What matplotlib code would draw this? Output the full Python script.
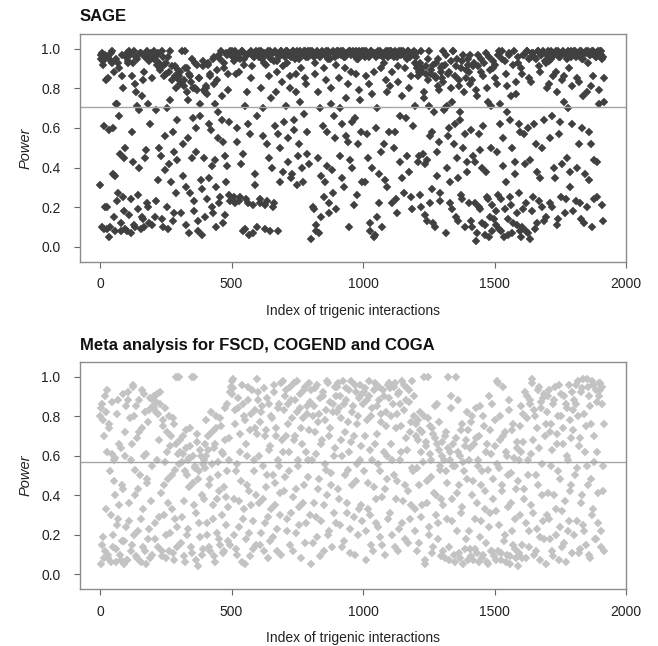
import matplotlib
matplotlib.use("Agg")
import matplotlib.pyplot as plt
import numpy as np

plt.rcParams['font.family'] = ['Liberation Sans', 'DejaVu Sans']

# power values, one row per 100 interactions.
# the "_a" lists hold indices 0, 4, 8, ...; the "_b" lists hold 2, 6, 10, ...
sage_power_a = [
    0.31, 0.97, 0.10, 0.94, 0.61, 0.20, 0.96, 0.09, 0.85, 0.05, 0.98, 0.93, 0.60, 0.15, 0.36, 0.95, 0.72, 0.27, 0.90, 0.47, 0.08, 0.86, 0.25, 0.18, 0.50,
    0.97, 0.08, 0.94, 0.99, 0.24, 0.58, 0.93, 0.11, 0.82, 0.96, 0.71, 0.19, 0.40, 0.98, 0.09, 0.76, 0.14, 0.88, 0.45, 0.96, 0.22, 0.72, 0.12, 0.97, 0.85,
    0.98, 0.95, 0.15, 0.69, 0.97, 0.34, 0.93, 0.89, 0.46, 0.99, 0.10, 0.92, 0.56, 0.87, 0.20, 0.96, 0.42, 0.74, 0.91, 0.13, 0.48, 0.86, 0.27, 0.64, 0.89,
    0.84, 0.88, 0.17, 0.83, 0.52, 0.81, 0.99, 0.30, 0.90, 0.74, 0.07, 0.86, 0.45, 0.80, 0.23, 0.93, 0.60, 0.79, 0.13, 0.85, 0.66, 0.34, 0.06, 0.91, 0.45,
    0.78, 0.80, 0.24, 0.93, 0.62, 0.87, 0.41, 0.17, 0.96, 0.72, 0.30, 0.84, 0.55, 0.22, 0.95, 0.99, 0.64, 0.12, 0.90, 0.46, 0.33, 0.97, 0.79, 0.26, 0.99,
    0.98, 0.96, 0.25, 0.99, 0.87, 0.53, 0.97, 0.23, 0.95, 0.42, 0.99, 0.08, 0.92, 0.71, 0.24, 0.97, 0.62, 0.06, 0.98, 0.85, 0.21, 0.96, 0.37, 0.99, 0.10,
    0.97, 0.99, 0.22, 0.80, 0.95, 0.56, 0.98, 0.09, 0.92, 0.23, 0.97, 0.45, 0.99, 0.75, 0.20, 0.94, 0.61, 0.98, 0.88, 0.08, 0.96, 0.50, 0.99, 0.83, 0.38,
    0.98, 0.96, 0.71, 0.99, 0.43, 0.97, 0.86, 0.35, 0.99, 0.59, 0.95, 0.78, 0.31, 0.98, 0.52, 0.99, 0.90, 0.40, 0.97, 0.67, 0.99, 0.82, 0.47, 0.96, 0.98,
    0.99, 0.04, 0.97, 0.19, 0.93, 0.11, 0.98, 0.78, 0.07, 0.96, 0.36, 0.99, 0.61, 0.25, 0.97, 0.84, 0.41, 0.99, 0.17, 0.95, 0.72, 0.27, 0.98, 0.55, 0.92,
    0.98, 0.99, 0.85, 0.46, 0.97, 0.62, 0.99, 0.30, 0.96, 0.75, 0.98, 0.53, 0.10, 0.99, 0.88, 0.40, 0.97, 0.65, 0.99, 0.26, 0.95, 0.79, 0.98, 0.58, 0.99,
    0.97, 0.99, 0.33, 0.86, 0.98, 0.45, 0.96, 0.08, 0.99, 0.77, 0.05, 0.98, 0.60, 0.15, 0.97, 0.37, 0.99, 0.90, 0.10, 0.96, 0.52, 0.98, 0.84, 0.30, 0.99,
    0.98, 0.81, 0.99, 0.22, 0.96, 0.58, 0.98, 0.17, 0.91, 0.99, 0.43, 0.97, 0.76, 0.99, 0.27, 0.98, 0.65, 0.95, 0.99, 0.38, 0.97, 0.86, 0.19, 0.98, 0.71,
    0.96, 0.92, 0.43, 0.88, 0.26, 0.99, 0.90, 0.47, 0.78, 0.16, 0.87, 0.44, 0.95, 0.71, 0.22, 0.89, 0.58, 0.12, 0.86, 0.93, 0.36, 0.81, 0.53, 0.27, 0.90,
    0.85, 0.99, 0.69, 0.92, 0.07, 0.71, 0.56, 0.88, 0.33, 0.80, 0.19, 0.99, 0.62, 0.91, 0.45, 0.13, 0.84, 0.68, 0.26, 0.94, 0.50, 0.78, 0.10, 0.89, 0.38,
    0.95, 0.22, 0.82, 0.59, 0.10, 0.91, 0.43, 0.03, 0.76, 0.97, 0.20, 0.49, 0.88, 0.12, 0.61, 0.93, 0.06, 0.38, 0.80, 0.24, 0.96, 0.15, 0.71, 0.08, 0.90,
    0.85, 0.18, 0.48, 0.97, 0.09, 0.72, 0.24, 0.99, 0.55, 0.05, 0.94, 0.33, 0.81, 0.14, 0.98, 0.64, 0.21, 0.07, 0.92, 0.43, 0.77, 0.11, 0.96, 0.27, 0.58,
    0.05, 0.87, 0.19, 0.97, 0.42, 0.08, 0.99, 0.60, 0.95, 0.04, 0.83, 0.98, 0.25, 0.96, 0.52, 0.12, 0.99, 0.91, 0.35, 0.97, 0.20, 0.98, 0.64, 0.94, 0.15,
    0.97, 0.99, 0.82, 0.22, 0.95, 0.66, 0.98, 0.40, 0.88, 0.11, 0.99, 0.57, 0.96, 0.25, 0.84, 0.98, 0.73, 0.17, 0.97, 0.45, 0.99, 0.90, 0.30, 0.96, 0.62,
    0.98, 0.99, 0.23, 0.85, 0.97, 0.52, 0.99, 0.14, 0.95, 0.76, 0.98, 0.37, 0.99, 0.20, 0.93, 0.58, 0.97, 0.81, 0.10, 0.99, 0.44, 0.96, 0.25, 0.98, 0.72,
    0.99, 0.97, 0.21, 0.96, 0.73,
]

sage_power_b = [
    0.95, 0.98, 0.92, 0.09, 0.97, 0.84, 0.20, 0.96, 0.59, 0.10, 0.94, 0.99, 0.37, 0.88, 0.08, 0.72, 0.23, 0.93, 0.66, 0.12, 0.97, 0.80, 0.45, 0.09, 0.96,
    0.98, 0.93, 0.16, 0.97, 0.07, 0.86, 0.43, 0.99, 0.10, 0.78, 0.95, 0.26, 0.69, 0.98, 0.15, 0.84, 0.10, 0.96, 0.49, 0.99, 0.20, 0.94, 0.62, 0.98, 0.11,
    0.97, 0.99, 0.95, 0.23, 0.92, 0.98, 0.50, 0.90, 0.14, 0.96, 0.86, 0.39, 0.93, 0.70, 0.09, 0.88, 0.99, 0.33, 0.84, 0.58, 0.17, 0.91, 0.80, 0.44, 0.87,
    0.86, 0.82, 0.99, 0.36, 0.84, 0.90, 0.11, 0.78, 0.55, 0.87, 0.27, 0.83, 0.95, 0.65, 0.18, 0.80, 0.48, 0.92, 0.08, 0.85, 0.72, 0.29, 0.94, 0.79, 0.15,
    0.81, 0.77, 0.92, 0.35, 0.86, 0.59, 0.20, 0.95, 0.82, 0.44, 0.10, 0.89, 0.68, 0.97, 0.25, 0.76, 0.53, 0.93, 0.16, 0.98, 0.41, 0.87, 0.63, 0.23, 0.97,
    0.99, 0.97, 0.94, 0.22, 0.98, 0.60, 0.96, 0.88, 0.25, 0.99, 0.47, 0.95, 0.09, 0.97, 0.78, 0.22, 0.98, 0.57, 0.99, 0.91, 0.07, 0.96, 0.31, 0.98, 0.66,
    0.98, 0.96, 0.24, 0.99, 0.70, 0.93, 0.21, 0.97, 0.52, 0.99, 0.86, 0.08, 0.95, 0.40, 0.98, 0.22, 0.99, 0.78, 0.94, 0.57, 0.97, 0.33, 0.99, 0.91, 0.63,
    0.97, 0.99, 0.93, 0.55, 0.98, 0.80, 0.96, 0.37, 0.99, 0.64, 0.97, 0.87, 0.99, 0.46, 0.95, 0.73, 0.98, 0.33, 0.99, 0.85, 0.96, 0.58, 0.99, 0.42, 0.97,
    0.98, 0.99, 0.20, 0.96, 0.87, 0.08, 0.99, 0.45, 0.97, 0.70, 0.15, 0.98, 0.90, 0.33, 0.99, 0.58, 0.95, 0.22, 0.98, 0.80, 0.39, 0.99, 0.66, 0.96, 0.19,
    0.99, 0.97, 0.98, 0.70, 0.99, 0.35, 0.96, 0.90, 0.56, 0.98, 0.82, 0.99, 0.44, 0.97, 0.63, 0.99, 0.21, 0.98, 0.87, 0.95, 0.52, 0.99, 0.74, 0.97, 0.33,
    0.98, 0.96, 0.99, 0.57, 0.97, 0.82, 0.12, 0.99, 0.40, 0.98, 0.88, 0.06, 0.96, 0.70, 0.99, 0.22, 0.97, 0.48, 0.98, 0.93, 0.34, 0.99, 0.78, 0.96, 0.58,
    0.99, 0.97, 0.88, 0.98, 0.50, 0.99, 0.24, 0.96, 0.83, 0.98, 0.66, 0.99, 0.35, 0.97, 0.90, 0.98, 0.46, 0.99, 0.80, 0.96, 0.25, 0.98, 0.61, 0.99, 0.93,
    0.98, 0.90, 0.86, 0.46, 0.93, 0.20, 0.88, 0.75, 0.42, 0.91, 0.13, 0.84, 0.99, 0.56, 0.87, 0.29, 0.92, 0.68, 0.10, 0.85, 0.48, 0.95, 0.79, 0.23, 0.88,
    0.91, 0.83, 0.70, 0.97, 0.40, 0.87, 0.60, 0.22, 0.94, 0.73, 0.99, 0.52, 0.86, 0.15, 0.95, 0.35, 0.81, 0.64, 0.90, 0.24, 0.97, 0.57, 0.85, 0.43, 0.92,
    0.88, 0.97, 0.13, 0.84, 0.46, 0.93, 0.22, 0.79, 0.07, 0.91, 0.57, 0.19, 0.95, 0.40, 0.86, 0.11, 0.98, 0.25, 0.73, 0.05, 0.89, 0.50, 0.21, 0.94, 0.14,
    0.92, 0.11, 0.82, 0.26, 0.99, 0.62, 0.08, 0.95, 0.41, 0.19, 0.87, 0.68, 0.06, 0.97, 0.25, 0.76, 0.50, 0.12, 0.99, 0.37, 0.83, 0.17, 0.93, 0.62, 0.08,
    0.90, 0.10, 0.97, 0.57, 0.22, 0.99, 0.07, 0.85, 0.44, 0.96, 0.18, 0.98, 0.62, 0.09, 0.95, 0.38, 0.99, 0.23, 0.88, 0.97, 0.50, 0.99, 0.13, 0.93, 0.80,
    0.98, 0.94, 0.55, 0.99, 0.20, 0.86, 0.97, 0.35, 0.99, 0.78, 0.14, 0.96, 0.63, 0.98, 0.42, 0.99, 0.86, 0.24, 0.95, 0.70, 0.98, 0.38, 0.99, 0.81, 0.18,
    0.97, 0.99, 0.96, 0.40, 0.98, 0.83, 0.22, 0.99, 0.60, 0.95, 0.12, 0.98, 0.78, 0.99, 0.34, 0.97, 0.52, 0.99, 0.86, 0.24, 0.98, 0.96, 0.43, 0.99, 0.79,
    0.98, 0.99, 0.95, 0.13, 0.85,
]

meta_power_a = [
    0.80, 0.05, 0.86, 0.19, 0.70, 0.12, 0.82, 0.93, 0.08, 0.76, 0.30, 0.61, 0.14, 0.47, 0.59, 0.06, 0.25, 0.88, 0.35, 0.10, 0.64, 0.17, 0.43, 0.05, 0.72,
    0.85, 0.07, 0.92, 0.27, 0.58, 0.15, 0.95, 0.80, 0.40, 0.09, 0.69, 0.22, 0.88, 0.50, 0.06, 0.74, 0.33, 0.91, 0.12, 0.61, 0.46, 0.18, 0.83, 0.08, 0.55,
    0.88, 0.84, 0.26, 0.82, 0.91, 0.14, 0.68, 0.86, 0.41, 0.09, 0.78, 0.30, 0.57, 0.20, 0.72, 0.48, 0.12, 0.65, 0.33, 0.79, 0.07, 0.53, 1.00, 0.24, 0.61,
    1.00, 0.62, 0.16, 0.57, 0.70, 0.37, 0.06, 0.64, 0.50, 0.23, 0.59, 0.74, 0.11, 0.46, 1.00, 0.55, 0.31, 0.67, 0.04, 0.52, 0.19, 0.60, 0.40, 0.13, 0.58,
    0.54, 0.78, 0.26, 0.63, 0.14, 0.48, 0.72, 0.35, 0.09, 0.66, 0.80, 0.21, 0.57, 0.42, 0.15, 0.75, 0.30, 0.61, 0.12, 0.84, 0.39, 0.52, 0.17, 0.69, 0.92,
    0.98, 0.94, 0.38, 0.83, 0.13, 0.56, 0.89, 0.24, 0.71, 0.47, 0.06, 0.86, 0.33, 0.78, 0.18, 0.60, 0.95, 0.42, 0.09, 0.81, 0.27, 0.52, 0.74, 0.15, 0.99,
    0.92, 0.36, 0.77, 0.21, 0.85, 0.55, 0.12, 0.70, 0.44, 0.89, 0.29, 0.63, 0.17, 0.80, 0.50, 0.96, 0.35, 0.74, 0.23, 0.58, 0.86, 0.41, 0.10, 0.68, 0.98,
    0.83, 0.49, 0.93, 0.28, 0.76, 0.62, 0.15, 0.88, 0.39, 0.97, 0.70, 0.21, 0.82, 0.55, 0.34, 0.91, 0.08, 0.66, 0.79, 0.45, 0.95, 0.26, 0.85, 0.58, 0.73,
    0.87, 0.05, 0.80, 0.36, 0.94, 0.61, 0.19, 0.77, 0.48, 0.89, 0.27, 0.68, 0.92, 0.12, 0.56, 0.83, 0.40, 0.97, 0.22, 0.74, 0.51, 0.86, 0.31, 0.64, 0.90,
    0.95, 0.43, 0.84, 0.25, 0.79, 0.60, 0.98, 0.17, 0.72, 0.88, 0.36, 0.53, 0.93, 0.11, 0.67, 0.82, 0.29, 0.96, 0.47, 0.76, 0.20, 0.89, 0.58, 0.35, 0.91,
    0.86, 0.52, 0.94, 0.07, 0.78, 0.33, 0.90, 0.63, 0.15, 0.84, 0.44, 0.97, 0.26, 0.71, 0.56, 0.88, 0.19, 0.81, 0.39, 0.93, 0.62, 0.10, 0.75, 0.48, 0.96,
    0.89, 0.31, 0.80, 0.58, 0.95, 0.14, 0.74, 0.47, 0.91, 0.23, 0.86, 0.62, 0.98, 0.37, 0.83, 0.18, 0.69, 0.94, 0.42, 0.87, 0.28, 0.77, 0.54, 0.90, 0.33,
    0.76, 0.12, 0.68, 0.45, 0.82, 0.29, 0.72, 0.57, 1.00, 0.07, 0.65, 0.36, 0.79, 0.20, 0.61, 0.49, 0.74, 0.14, 0.69, 0.40, 0.86, 0.26, 0.63, 0.53, 0.09,
    0.67, 0.35, 0.58, 0.08, 0.72, 0.46, 1.00, 0.14, 0.62, 0.84, 0.27, 0.55, 0.06, 0.69, 0.41, 0.88, 0.11, 0.60, 0.31, 0.76, 0.05, 0.52, 0.65, 0.18, 0.82,
    0.73, 0.22, 0.64, 0.09, 0.80, 0.47, 0.13, 0.69, 0.36, 0.58, 0.06, 0.85, 0.27, 0.52, 0.10, 0.75, 0.42, 0.16, 0.66, 0.05, 0.90, 0.31, 0.61, 0.12, 0.48,
    0.78, 0.07, 0.56, 0.97, 0.25, 0.68, 0.11, 0.45, 0.95, 0.17, 0.72, 0.06, 0.60, 0.34, 0.83, 0.09, 0.51, 0.22, 0.76, 0.13, 0.43, 0.64, 0.04, 0.58, 0.30,
    0.85, 0.15, 0.67, 0.38, 0.92, 0.08, 0.79, 0.50, 0.22, 0.88, 0.61, 0.99, 0.31, 0.83, 0.12, 0.74, 0.45, 0.95, 0.19, 0.87, 0.56, 0.27, 0.91, 0.70, 0.05,
    0.82, 0.41, 0.93, 0.18, 0.76, 0.63, 0.09, 0.88, 0.33, 0.71, 0.52, 0.96, 0.24, 0.80, 0.14, 0.66, 0.90, 0.37, 0.06, 0.84, 0.58, 0.27, 0.78, 0.45, 0.92,
    0.73, 0.20, 0.86, 0.54, 0.98, 0.11, 0.69, 0.36, 0.94, 0.25, 0.81, 0.62, 0.15, 0.99, 0.45, 0.90, 0.08, 0.76, 0.30, 0.96, 0.57, 0.18, 0.87, 0.41, 0.97,
    0.93, 0.14, 0.86, 0.42, 0.76,
]

meta_power_b = [
    0.84, 0.15, 0.78, 0.08, 0.90, 0.33, 0.62, 0.10, 0.74, 0.52, 0.06, 0.87, 0.20, 0.58, 0.40, 0.13, 0.81, 0.28, 0.66, 0.07, 0.45, 0.91, 0.17, 0.60, 0.24,
    0.07, 0.88, 0.36, 0.79, 0.12, 0.66, 0.96, 0.20, 0.53, 0.85, 0.08, 0.43, 0.72, 0.28, 0.93, 0.14, 0.60, 0.82, 0.05, 0.48, 0.77, 0.23, 0.89, 0.37, 0.10,
    0.85, 0.90, 0.18, 0.87, 0.58, 0.81, 0.29, 0.92, 0.12, 0.75, 0.45, 0.84, 0.08, 0.62, 0.36, 0.80, 0.21, 0.70, 0.50, 0.11, 0.76, 0.28, 0.66, 0.14, 1.00,
    0.56, 0.68, 0.29, 0.61, 0.09, 0.52, 0.73, 0.20, 0.58, 0.44, 0.65, 0.14, 1.00, 0.60, 0.35, 0.54, 0.07, 0.71, 0.48, 0.26, 0.63, 0.10, 0.56, 0.38, 0.66,
    0.60, 0.20, 0.70, 0.45, 0.12, 0.82, 0.56, 0.28, 0.64, 0.06, 0.74, 0.38, 0.50, 0.18, 0.79, 0.62, 0.11, 0.44, 0.68, 0.25, 0.86, 0.34, 0.58, 0.15, 0.95,
    0.91, 0.99, 0.20, 0.76, 0.52, 0.10, 0.84, 0.37, 0.62, 0.96, 0.28, 0.80, 0.05, 0.66, 0.45, 0.88, 0.21, 0.73, 0.35, 0.93, 0.13, 0.58, 0.83, 0.40, 0.71,
    0.88, 0.60, 0.15, 0.82, 0.38, 0.94, 0.26, 0.73, 0.50, 0.08, 0.86, 0.65, 0.33, 0.79, 0.19, 0.92, 0.46, 0.70, 0.12, 0.84, 0.55, 0.30, 0.97, 0.62, 0.42,
    0.90, 0.70, 0.22, 0.86, 0.52, 0.95, 0.31, 0.79, 0.12, 0.68, 0.88, 0.43, 0.98, 0.58, 0.25, 0.84, 0.74, 0.36, 0.93, 0.16, 0.62, 0.81, 0.49, 0.97, 0.30,
    0.93, 0.58, 0.16, 0.85, 0.72, 0.29, 0.96, 0.43, 0.81, 0.09, 0.66, 0.90, 0.35, 0.78, 0.53, 0.98, 0.20, 0.70, 0.87, 0.45, 0.14, 0.82, 0.60, 0.95, 0.26,
    0.82, 0.97, 0.38, 0.90, 0.68, 0.14, 0.86, 0.50, 0.94, 0.31, 0.77, 0.62, 0.23, 0.98, 0.45, 0.85, 0.70, 0.10, 0.92, 0.56, 0.80, 0.33, 0.96, 0.65, 0.27,
    0.92, 0.70, 0.22, 0.88, 0.46, 0.98, 0.30, 0.80, 0.58, 0.12, 0.93, 0.66, 0.38, 0.85, 0.24, 0.95, 0.52, 0.77, 0.15, 0.90, 0.43, 0.82, 0.60, 0.28, 0.97,
    0.94, 0.66, 0.20, 0.86, 0.50, 0.97, 0.38, 0.81, 0.12, 0.92, 0.58, 0.75, 0.26, 0.96, 0.45, 0.88, 0.63, 0.16, 0.93, 0.72, 0.35, 0.98, 0.52, 0.80, 0.22,
    0.70, 0.54, 0.78, 0.16, 0.73, 0.62, 0.35, 0.80, 0.05, 0.67, 0.47, 1.00, 0.24, 0.75, 0.58, 0.11, 0.71, 0.41, 0.85, 0.30, 0.66, 0.18, 0.77, 0.55, 0.38,
    0.60, 0.12, 0.70, 0.52, 0.28, 0.64, 0.07, 0.58, 0.90, 0.38, 0.66, 0.10, 0.55, 1.00, 0.22, 0.62, 0.45, 0.08, 0.73, 0.34, 0.57, 0.13, 0.68, 0.48, 0.07,
    0.58, 0.13, 0.77, 0.40, 0.07, 0.66, 0.28, 0.84, 0.11, 0.55, 0.70, 0.19, 0.45, 0.08, 0.80, 0.33, 0.62, 0.06, 0.53, 0.24, 0.73, 0.12, 0.86, 0.38, 0.09,
    0.65, 0.32, 0.98, 0.12, 0.54, 0.80, 0.07, 0.42, 0.70, 0.20, 0.62, 0.10, 0.50, 0.88, 0.05, 0.36, 0.73, 0.15, 0.59, 0.28, 0.08, 0.67, 0.47, 0.11, 0.75,
    0.62, 0.08, 0.81, 0.43, 0.26, 0.90, 0.58, 0.14, 0.86, 0.35, 0.97, 0.68, 0.10, 0.80, 0.50, 0.23, 0.93, 0.64, 0.07, 0.84, 0.40, 0.89, 0.18, 0.76, 0.30,
    0.90, 0.28, 0.72, 0.55, 0.12, 0.86, 0.40, 0.95, 0.20, 0.66, 0.80, 0.07, 0.48, 0.91, 0.32, 0.74, 0.16, 0.86, 0.60, 0.22, 0.96, 0.42, 0.69, 0.11, 0.83,
    0.88, 0.50, 0.96, 0.27, 0.80, 0.65, 0.13, 0.92, 0.40, 0.99, 0.22, 0.75, 0.55, 0.95, 0.10, 0.85, 0.48, 0.98, 0.33, 0.70, 0.18, 0.93, 0.62, 0.26, 0.90,
    0.97, 0.22, 0.95, 0.55, 0.12,
]

sage_mean = 0.706
meta_mean = 0.566

titles = ["SAGE", "Meta analysis for FSCD, COGEND and COGA"]
xticks = [0, 500, 1000, 1500, 2000]
yticks = [0.0, 0.2, 0.4, 0.6, 0.8, 1.0]

panels = [(sage_power_a, sage_power_b, sage_mean, '#404040'),
          (meta_power_a, meta_power_b, meta_mean, '#c3c3c3')]

fig = plt.figure(figsize=(6.58, 6.46), dpi=100)
positions = [[0.1216, 0.5944, 0.8298, 0.353], [0.1216, 0.0878, 0.8298, 0.3518]]

for k in range(2):
    va, vb, mean, col = panels[k]
    ax = fig.add_axes(positions[k])
    xa = np.arange(len(va)) * 4
    xb = np.arange(len(vb)) * 4 + 2
    ax.plot(xa, va, linestyle='none', marker='D', ms=3.6, color=col, mec=col, mew=0.3)
    ax.plot(xb, vb, linestyle='none', marker='D', ms=3.6, color=col, mec=col, mew=0.3)
    ax.axhline(mean, color='#a6a6a6', lw=1.0)

    ax.set_xlim(-76, 2000)
    ax.set_ylim(-0.076, 1.074)
    ax.set_xticks(xticks)
    ax.set_yticks(yticks)
    ax.set_yticklabels(['%.1f' % v for v in yticks])
    for s in ax.spines.values():
        s.set_color('#8c8c8c')
        s.set_linewidth(1.0)
    ax.tick_params(axis='both', colors='#666666', labelcolor='#222222', labelsize=10, length=4)
    ax.tick_params(axis='x', pad=7)
    ax.tick_params(axis='y', pad=10)

    ax.set_title(titles[k], loc='left', fontsize=12, fontweight='bold', pad=9, color='#111111')
    ax.set_xlabel('Index of trigenic interactions', fontsize=10, labelpad=9, color='#222222')
    ax.set_ylabel('Power', fontsize=10.5, style='italic', labelpad=6, color='#222222')

fig.savefig('out.png', dpi=100)
